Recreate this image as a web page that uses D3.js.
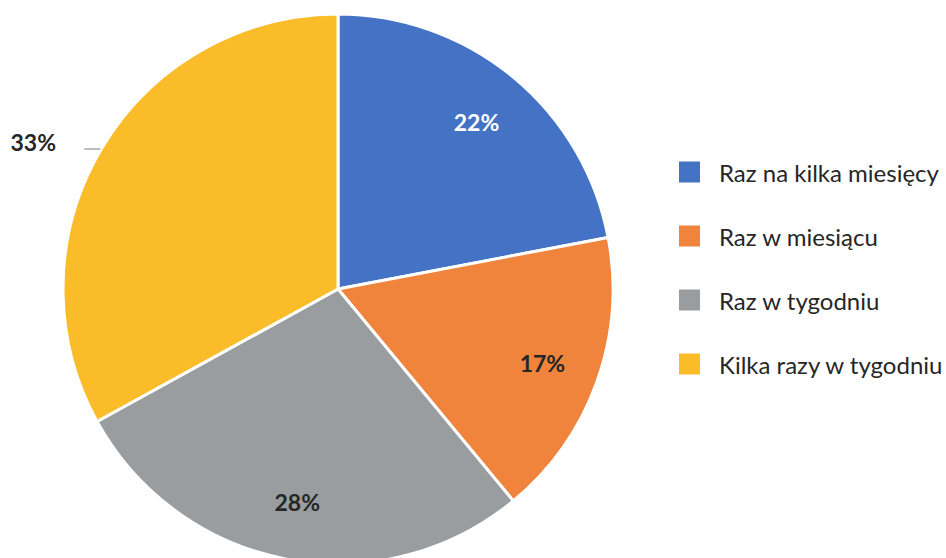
<!DOCTYPE html>
<html>
<head>
<meta charset="utf-8">
<script src="https://cdn.jsdelivr.net/npm/d3@7"></script>
<style>
  html, body { margin: 0; padding: 0; background: #fff; }
  svg { display: block; }
</style>
</head>
<body>
<svg id="chart" width="946" height="558"></svg>
<script>
// Answers: how often respondents do it
const categories = ["Raz na kilka miesięcy", "Raz w miesiącu", "Raz w tygodniu", "Kilka razy w tygodniu"];
const values = [22, 17, 28, 33];
const colors = ["#4472C4", "#F0843C", "#9A9DA0", "#FBBC2A"];
const labelColors = ["#FFFFFF", "#262626", "#262626", "#262626"];

const svg = d3.select("#chart");
const cx = 338, cy = 289, radius = 275;
const fontFamily = "Lato, 'Open Sans', 'Noto Sans', sans-serif";

const pie = d3.pie().sort(null).value(d => d)(values);
const arc = d3.arc().innerRadius(0).outerRadius(radius);
const labelArc = d3.arc().innerRadius(radius * 0.79).outerRadius(radius * 0.79);

const g = svg.append("g").attr("transform", `translate(${cx},${cy})`);

g.selectAll("path.slice")
  .data(pie)
  .join("path")
  .attr("class", "slice")
  .attr("d", arc)
  .attr("fill", (d, i) => colors[i])
  .attr("stroke", "#fff")
  .attr("stroke-width", 3)
  .attr("stroke-linejoin", "round");

function addLabel(x, y, i) {
  g.append("text")
    .attr("x", x).attr("y", y)
    .attr("text-anchor", "middle")
    .attr("dominant-baseline", "central")
    .attr("font-family", fontFamily)
    .attr("font-weight", "bold")
    .attr("font-size", 23)
    .attr("fill", labelColors[i])
    .text(values[i] + "%");
}

// Data labels: inside for most slices, outside with a leader line for the last one
pie.forEach((d, i) => {
  if (i === 3) {
    const mid = (d.startAngle + d.endAngle) / 2;
    const a = mid - Math.PI / 2;
    const edgeX = Math.cos(a) * radius;
    const edgeY = Math.sin(a) * radius;
    g.append("line")
      .attr("x1", edgeX - 1).attr("y1", edgeY)
      .attr("x2", edgeX - 17).attr("y2", edgeY)
      .attr("stroke", "#A6A6A6").attr("stroke-width", 1.5);
    addLabel(edgeX - 68, edgeY - 7, i);
  } else {
    const [x, y] = labelArc.centroid(d);
    addLabel(x, y, i);
  }
});

// Legend
const legend = svg.append("g").attr("transform", "translate(679,172)");
const rowStep = 64;
const items = legend.selectAll("g.item")
  .data(categories)
  .join("g")
  .attr("class", "item")
  .attr("transform", (d, i) => `translate(0,${i * rowStep})`);

items.append("rect")
  .attr("x", 0).attr("y", -10.5)
  .attr("width", 21).attr("height", 21)
  .attr("fill", (d, i) => colors[i]);

items.append("text")
  .attr("x", 40).attr("y", 0)
  .attr("dominant-baseline", "central")
  .attr("font-family", fontFamily)
  .attr("font-size", 24)
  .attr("fill", "#262626")
  .text(d => d);
</script>
</body>
</html>
